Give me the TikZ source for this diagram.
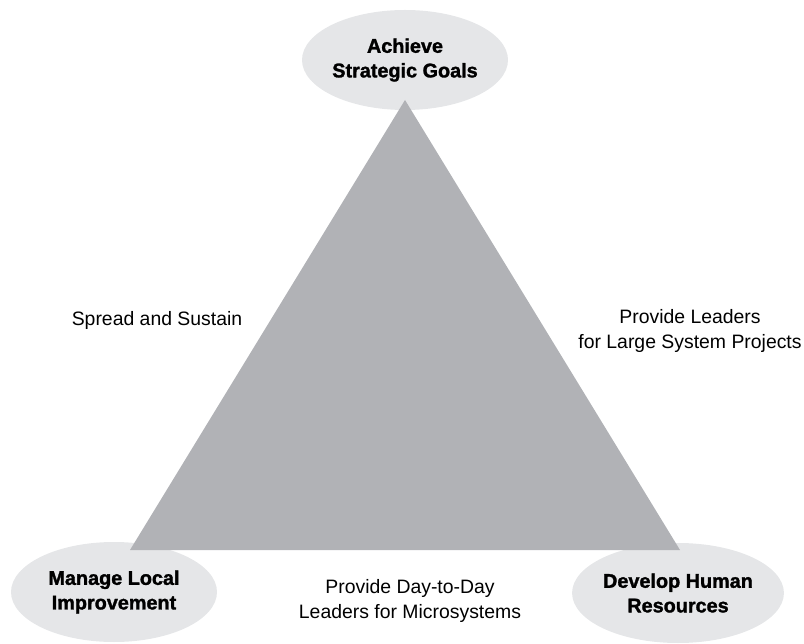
\documentclass[tikz,border=0pt]{standalone}
\usepackage{fontspec}
\setmainfont{Liberation Sans}[BoldFeatures={FakeBold=1.5}]
\usepackage{tikz}
\usetikzlibrary{calc, shapes, positioning}
\definecolor{trigray}{RGB}{177,178,182}
\definecolor{ellgray}{RGB}{229,230,232}
\tikzstyle{goal}=[ellipse, fill=ellgray, inner sep=0pt, minimum width=5.15cm, minimum height=2.5cm, align=center, font=\fontsize{14.1}{17.5}\selectfont\bfseries]
\tikzstyle{edgetext}=[align=center, font=\fontsize{13.8}{18.2}\selectfont]

\begin{document}
\begin{tikzpicture}
\useasboundingbox (0,0) rectangle (20.1,16.075);
\node [goal] (top) at (10.125,14.575) {Achieve\\Strategic Goals};
\node [goal] (left) at (2.85,1.275) {Manage Local\\Improvement};
\node [goal] (right) at (16.95,1.25) {Develop Human\\Resources};
\coordinate (a) at (10.125,13.575); \coordinate (b) at (3.25,2.325); \coordinate (c) at (17.0,2.325);
\fill [trigray] (a) -- (b) -- (c) -- cycle;
%\draw (a) -- (b) -- (c) -- cycle;
\node [edgetext] (spread) at (3.925,8.075) {Spread and Sustain};
\node [edgetext] (large) at (17.25,7.8) {Provide Leaders\\for Large System Projects};
\node [edgetext] (micro) at (10.25,1.05) {Provide Day-to-Day\\Leaders for Microsystems};
\end{tikzpicture}
\end{document}
